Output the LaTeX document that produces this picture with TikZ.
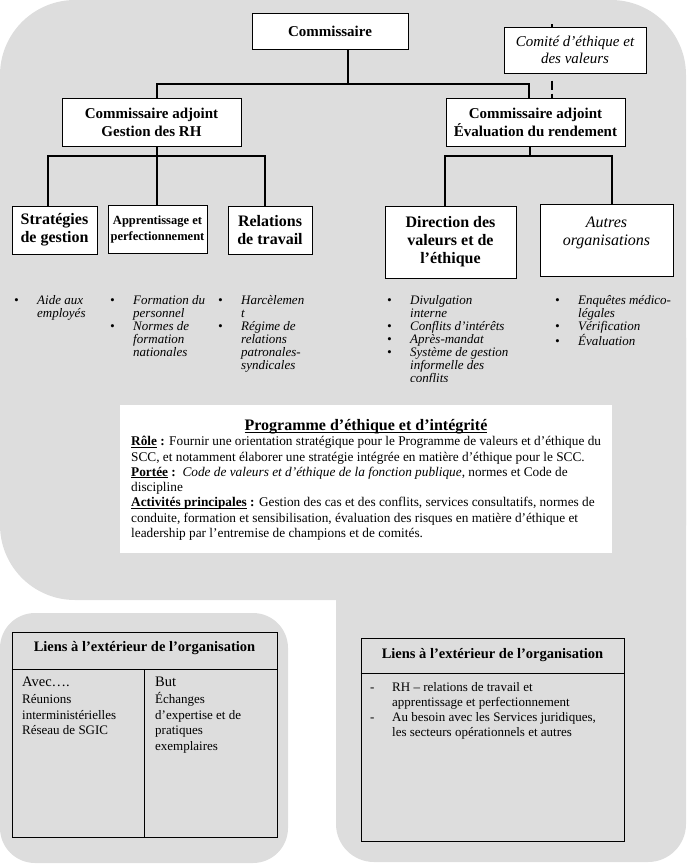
\documentclass[tikz,border=0pt]{standalone}
\usepackage{fontspec}
\setmainfont{Liberation Serif}
\definecolor{bggray}{RGB}{221,221,221}
\newcommand\bul{\makebox[23pt][l]{\textbullet}}
\newcommand\nbl{\hspace*{23pt}}
\newcommand\dsh{\makebox[22pt][l]{-}}
\newcommand\nds{\hspace*{22pt}}
\newcommand\sH[1]{\rule{0pt}{#1}}
\newcommand\ulx[1]{\setbox0\hbox{#1}\rlap{\rule[-1.8pt]{\wd0}{0.8pt}}\box0\relax}
\tikzset{
 orgbox/.style={draw=black, line width=1pt, fill=white, inner sep=0pt, align=center},
 conn/.style={draw=black, line width=2pt, line join=miter},
 dashconn/.style={draw=black, line width=2pt, dash pattern=on 0pt off 7pt on 9pt off 4pt on 10pt off 50pt},
 bulltext/.style={inner sep=0pt, anchor=north west, align=left, font=\fontsize{13}{13}\selectfont\itshape},
 tbl/.style={draw=black, line width=1pt, inner sep=0pt},
 tline/.style={draw=black, line width=1pt},
 fxv/.style={font=\fontsize{15}{18}\selectfont\bfseries},
 fxvi/.style={font=\fontsize{16}{18}\selectfont\bfseries},
 plain/.style={inner sep=0pt, anchor=north west, align=left, font=\fontsize{13}{15.5}\selectfont},
}
\begin{document}
\begin{tikzpicture}[x=1pt, y=-1pt]
\useasboundingbox (0,0) rectangle (686,865);
% gray backgrounds
\fill[bggray, rounded corners=75pt] (0,0) rectangle (686,600);
\fill[bggray, rounded corners=38pt] (336,300) rectangle (686,862);
\fill[bggray, rounded corners=35pt] (0,613) rectangle (288,863);

% org boxes
\node[orgbox, fxv, minimum width=156pt, minimum height=36pt] (comm) at (330,31) {Commissaire};
\node[orgbox, font=\fontsize{15}{17}\selectfont\itshape, minimum width=142pt, minimum height=46pt] (comite) at (575,50) {Comité d’éthique et\\des valeurs};
\node[orgbox, fxv, minimum width=179pt, minimum height=48pt] (gest) at (151.5,122) {Commissaire adjoint\\Gestion des RH};
\node[orgbox, fxv, minimum width=179pt, minimum height=48pt] (eval) at (535.5,122) {Commissaire adjoint\\Évaluation du rendement};
\node[orgbox, fxvi, minimum width=85pt, minimum height=48pt] (strat) at (54.5,230) {Stratégies\\de gestion};
\node[orgbox, font=\fontsize{12.5}{16}\selectfont\bfseries, minimum width=99pt, minimum height=48pt] (appr) at (157.5,229) {Apprentissage et\\perfectionnement};
\node[orgbox, fxvi, minimum width=84pt, minimum height=48pt] (rel) at (270,230) {Relations\\de travail};
\node[orgbox, fxvi, minimum width=131pt, minimum height=72pt] (dir) at (450.5,242) {Direction des\\valeurs et de\\l’éthique};
\node[orgbox, font=\fontsize{16}{18}\selectfont\itshape, minimum width=133pt, minimum height=72pt] (autres) at (606.5,240) {Autres\\organisations\\\mbox{}};

% connectors
\coordinate (j1) at (348,84);
\coordinate (gt) at (157,84);
\coordinate (et) at (529,84);
\draw[conn] (comm.south -| j1) -- (j1);
\draw[conn] (gest.north -| gt) -- (gt) -- (et) -- (eval.north -| et);
\coordinate (s1) at (48,156);
\coordinate (g1) at (157,156);
\coordinate (r1) at (265,156);
\draw[conn] (gest.south -| g1) -- (appr.north -| g1);
\draw[conn] (strat.north -| s1) -- (s1) -- (r1) -- (rel.north -| r1);
\coordinate (e1) at (530,156);
\coordinate (d1) at (445,156);
\coordinate (a1) at (612,156);
\draw[conn] (eval.south -| e1) -- (e1);
\draw[conn] (dir.north -| d1) -- (d1) -- (a1) -- (autres.north -| a1);
\coordinate (ctop) at (552,24);
\draw[line width=2pt] (ctop) -- (comite.north -| ctop);
\draw[dashconn] (comite.south -| ctop) -- (eval.north -| ctop);

% bullet lists
\node[bulltext] (lstrat) at (14,295) {\sH{9pt}\bul Aide aux\\\nbl employés};
\node[bulltext] (lappr) at (110,295) {\sH{9pt}\bul Formation du\\\nbl personnel\\\bul Normes de\\\nbl formation\\\nbl nationales};
\node[bulltext] (lrel) at (218,295) {\sH{9pt}\bul Harcèlemen\\\nbl t\\\bul Régime de\\\nbl relations\\\nbl patronales-\\\nbl syndicales};
\begin{scope}
\clip (380,285) rectangle (540,381);
\node[bulltext] (ldir) at (387,295) {\sH{9pt}\bul Divulgation\\\nbl interne\\\bul Conflits d’intérêts\\\bul Après-mandat\\\bul Système de gestion\\\nbl informelle des\\\nbl conflits};
\end{scope}
\node[bulltext] (laut) at (555,295) {\sH{9pt}\bul Enquêtes médico-\\\nbl légales\\\bul Vérification\\\bul Évaluation};

% programme box
\node[fill=white, inner sep=0pt, minimum width=492pt, minimum height=148pt] (prog) at (366,479) {};
\node[inner sep=0pt, anchor=base, font=\fontsize{16}{18}\selectfont\bfseries] (ptitle) at (366,430.5) {\ulx{Programme d’éthique et d’intégrité}};
\node[inner sep=0pt, anchor=north west, align=left, font=\fontsize{13.3}{15.3}\selectfont] (pbody) at (131,435.5) {\sH{10pt}\textbf{\ulx{Rôle} :} Fournir une orientation stratégique pour le Programme de valeurs et d’éthique du\\
SCC, et notamment élaborer une stratégie intégrée en matière d’éthique pour le SCC.\\
\textbf{\ulx{Portée} :}\ \ \textit{Code de valeurs et d’éthique de la fonction publique}, normes et Code de\\
discipline\\
\textbf{\ulx{Activités principales} :} Gestion des cas et des conflits, services consultatifs, normes de\\
conduite, formation et sensibilisation, évaluation des risques en matière d’éthique et\\
leadership par l’entremise de champions et de comités.};

% left table
\node[tbl, minimum width=265pt, minimum height=205pt] (ltab) at (144.5,734.5) {};
\coordinate (lh) at (0,669);
\coordinate (ld) at (144,0);
\draw[tline] (ltab.west |- lh) -- (ltab.east |- lh);
\draw[tline] (ld |- lh) -- (ld |- ltab.south);
\node[inner sep=0pt, anchor=base, font=\fontsize{14.5}{17}\selectfont\bfseries] (ltitle) at (144.5,651) {Liens à l’extérieur de l’organisation};
\node[plain] (lavec) at (22,675.5) {\sH{11pt}{\fontsize{14.5}{16}\selectfont Avec….}\\[1.5pt]Réunions\\interministérielles\\Réseau de SGIC};
\node[plain] (lbut) at (155,675.5) {\sH{11pt}{\fontsize{14.5}{16}\selectfont But}\\[1.5pt]Échanges\\d’expertise et de\\pratiques\\exemplaires};

% right table
\node[tbl, minimum width=263pt, minimum height=203pt] (rtab) at (492.5,739.5) {};
\coordinate (rh) at (0,673);
\draw[tline] (rtab.west |- rh) -- (rtab.east |- rh);
\node[inner sep=0pt, anchor=base, font=\fontsize{14.5}{17}\selectfont\bfseries] (rtitle) at (492.5,658) {Liens à l’extérieur de l’organisation};
\node[plain, font=\fontsize{13}{15}\selectfont] (rlist) at (370,682.5) {\sH{9pt}\dsh RH -- relations de travail et\\\nds apprentissage et perfectionnement\\\dsh Au besoin avec les Services juridiques,\\\nds les secteurs opérationnels et autres};
\end{tikzpicture}
\end{document}
